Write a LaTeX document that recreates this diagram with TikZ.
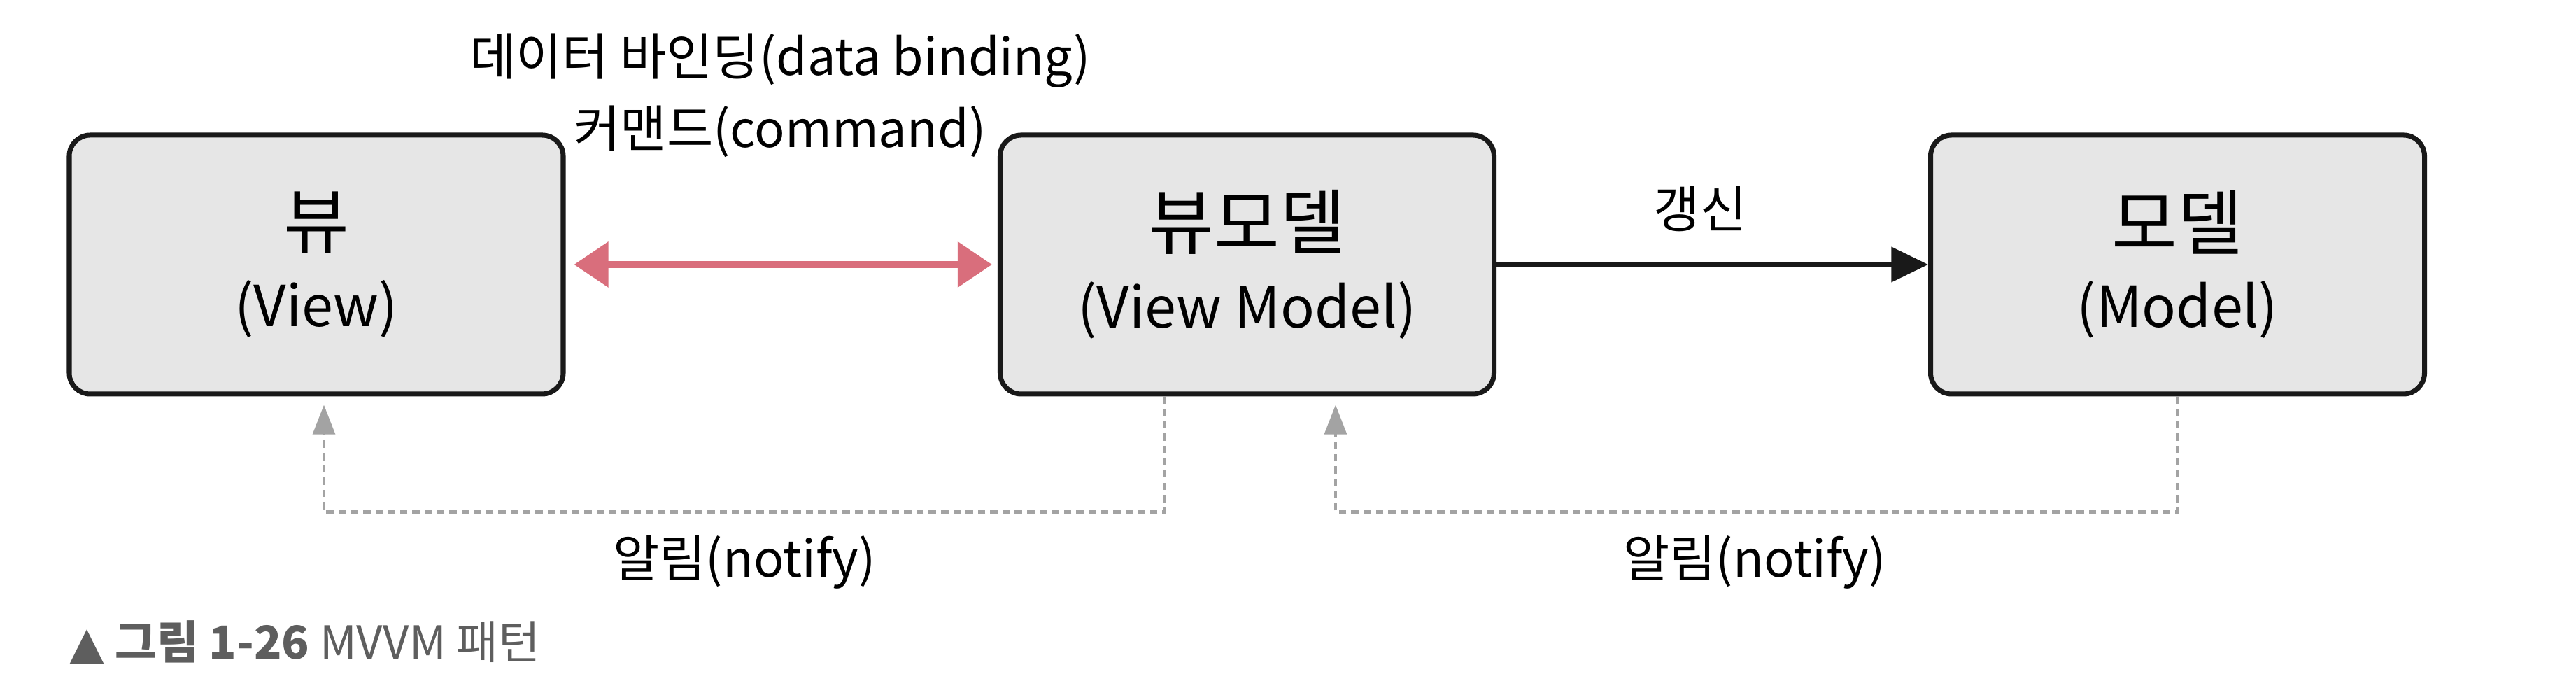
\documentclass[tikz,border=0pt]{standalone}
\usepackage{fontspec}
\setmainfont{Noto Sans CJK KR}
\usepackage{tikz}
\usetikzlibrary{arrows.meta,positioning}
\definecolor{boxgray}{HTML}{E6E6E6}
\definecolor{pinkred}{HTML}{D96E7C}
\definecolor{notifygray}{HTML}{A3A3A3}
\definecolor{capgray}{HTML}{5E5E5E}
\tikzset{
    layer/.style={draw=black!90, line width=2pt, rounded corners=0.3cm, fill=boxgray,
        minimum width=7.06cm, minimum height=3.7cm, align=center, inner sep=0pt},
    bind/.style={pinkred, line width=2.8pt, {Triangle[length=14pt,width=18pt]}-{Triangle[length=14pt,width=18pt]}},
    update/.style={black!90, line width=2pt, -{Triangle[length=15pt,width=14pt]}},
    notify/.style={notifygray, line width=1.3pt, densely dashed, -{Triangle[length=12pt,width=9pt]}, shorten >=0.12cm},
    lbl/.style={font=\fontsize{20.5}{22}\selectfont}
}
\newcommand{\boxtext}[2]{{\fontsize{29}{32}\selectfont #1}\\[0.35cm]{\fontsize{23}{25}\selectfont #2}}

\begin{document}
\begin{tikzpicture}
    \useasboundingbox (0,0) rectangle (36.82,10);

    \node[layer] (view) at (4.52,6.22) {\boxtext{뷰}{(View)}};
    \node[layer] (vm) at (17.825,6.22) {\boxtext{뷰모델}{(View Model)}};
    \node[layer] (model) at (31.125,6.22) {\boxtext{모델}{(Model)}};

    \draw[bind] ([xshift=0.12cm]view.east) -- ([xshift=-0.08cm]vm.west);
    \draw[update] (vm) -- (model);

    \draw[notify] ([xshift=-1.175cm]vm.south) -- ++(0,-1.65) -| ([xshift=0.11cm]view.south);
    \draw[notify] (model.south) -- ++(0,-1.65) -| ([xshift=1.265cm]vm.south);

    \node[lbl] (binding) at (11.15,9.13) {데이터 바인딩(data binding)};
    \node[lbl] (command) at (11.15,8.12) {커맨드(command)};
    \node[lbl] (renew) at (24.3,7.02) {갱신};
    \node[lbl] (notifya) at (10.64,1.97) {알림(notify)};
    \node[lbl] (notifyb) at (25.08,1.97) {알림(notify)};

    \node[anchor=west, text=capgray, font=\fontsize{18.5}{20}\selectfont, inner sep=0pt] (caption) at (0.99,0.82)
        {{\fontspec{DejaVu Sans}▲} \textbf{그림 1-26} MVVM 패턴};
\end{tikzpicture}
\end{document}
